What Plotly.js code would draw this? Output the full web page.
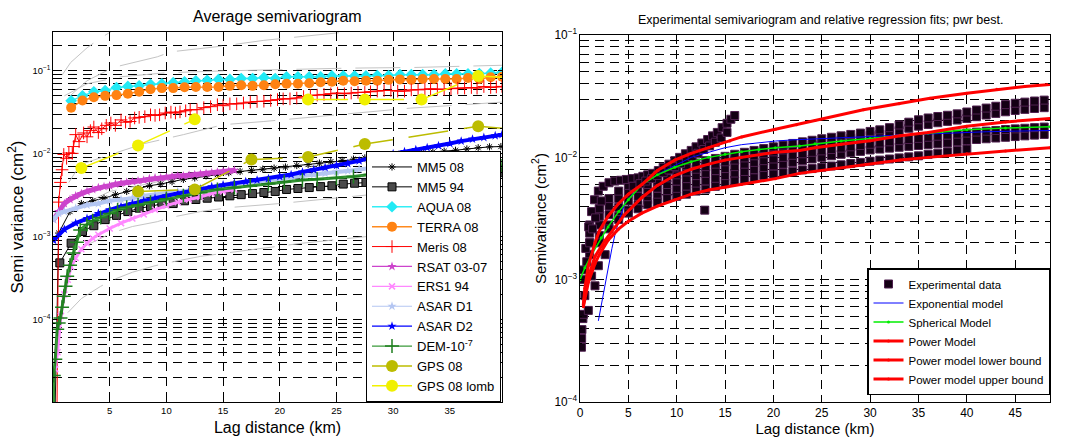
<!DOCTYPE html>
<html><head><meta charset="utf-8">
<script src="https://cdn.plot.ly/plotly-3.0.1.min.js"></script>
<style>html,body{margin:0;padding:0;background:#fff}#chart{width:1067px;height:439px}</style>
</head><body><div id="chart"></div>
<script>
// ================= LEFT PANEL DATA (lag km, semivariance cm^2) =================
const mm508X = [0.05,0.5,1.5,2.5,3.5,4.5,5.5,6.5,7.5,8.5,9.5,10.5,11.5,12.5,13.5,14.5,15.5,16.5,17.5,18.5,19.5,20.5,21.5,22.5,23.5,24.5,25.5,26.5,27.5,28.5,29.5,30.5,31.5,32.5,33.5,34.5,35.5,36.5,37.5,38.5,39.5];
const mm508Y = [1e-6,0.0011,0.0020,0.0025,0.0027,0.0029,0.0032,0.0035,0.0038,0.0041,0.0043,0.0046,0.0049,0.0051,0.0054,0.0056,0.0059,0.0061,0.0063,0.0065,0.0067,0.0069,0.0072,0.0074,0.0077,0.0080,0.0083,0.0086,0.0089,0.0092,0.0095,0.0098,0.0100,0.0103,0.0105,0.0107,0.0110,0.0114,0.0118,0.0121,0.0122];

const mm594X = [0.6,1.6,2.6,3.6,4.6,5.6,6.6,7.6,8.6,9.6,10.6,11.6,12.6,13.6,14.6,15.6,16.6,17.6,18.6,19.6,20.6,21.6,22.6,23.6,24.6,25.6,26.6,27.6,28.6,29.6,30.6,31.6,32.6,33.6,34.6,35.6,36.6,37.6,38.6,39.6];
const mm594Y = [0.00048,0.00083,0.00115,0.00135,0.0016,0.0018,0.0020,0.0022,0.0023,0.0025,0.0025,0.0027,0.0028,0.0029,0.0030,0.0031,0.0032,0.0033,0.0034,0.0035,0.0037,0.0038,0.0039,0.0040,0.0041,0.0043,0.0044,0.0045,0.0046,0.0047,0.0048,0.0049,0.0050,0.0051,0.0052,0.0053,0.0055,0.0056,0.0057,0.0059];

const modisX = [1.6,2.6,3.6,4.6,5.6,6.6,7.6,8.6,9.6,10.6,11.6,12.6,13.6,14.6,15.6,16.6,17.6,18.6,19.6,20.6,21.6,22.6,23.6,24.6,25.6,26.6,27.6,28.6,29.6,30.6,31.6,32.6,33.6,34.6,35.6,36.6,37.6,38.6,39.6];
const aquaY  = [0.0435,0.050,0.056,0.058,0.063,0.065,0.066,0.069,0.070,0.072,0.074,0.076,0.077,0.079,0.079,0.081,0.081,0.083,0.081,0.085,0.085,0.085,0.085,0.087,0.087,0.087,0.087,0.088,0.088,0.090,0.090,0.090,0.090,0.092,0.092,0.092,0.093,0.094,0.096];
const terraY = [0.036,0.044,0.048,0.050,0.051,0.053,0.056,0.060,0.062,0.062,0.0636,0.064,0.064,0.064,0.066,0.067,0.066,0.067,0.069,0.070,0.070,0.071,0.073,0.074,0.076,0.075,0.076,0.076,0.078,0.079,0.078,0.080,0.080,0.080,0.080,0.082,0.080,0.084,0.085];

const merisX = [0.3,0.5,0.66,0.8,0.95,1.2,1.4,1.7,1.8,2.0,2.3,2.7,3.0,3.3,3.6,4.0,4.3,4.7,5.1,5.5,6.0,6.4,6.8,7.2,7.6,8.1,8.6,9.0,9.4,9.9,10.4,10.8,11.2,11.7,12.1,12.7,13.3,13.9,14.5,15.0,15.6,16.2,16.8,17.4,18.0,18.6,19.2,19.8,20.3,20.9,21.5,22.1,22.7,23.3,23.9,24.5,25.1,25.7,26.3,26.9,27.5,28.0,28.6,29.2,29.8,30.4,31.0,31.6,32.2,32.8,33.3,33.9,34.5,35.1,35.7,36.3,36.9,37.4,38.0,38.6,39.1,39.6];
const merisY = [1e-6,0.0026,0.0045,0.0064,0.0098,0.0088,0.0102,0.0101,0.0122,0.017,0.014,0.0178,0.016,0.019,0.021,0.018,0.020,0.022,0.0235,0.022,0.0256,0.024,0.0245,0.027,0.0275,0.028,0.0295,0.029,0.0295,0.031,0.0318,0.031,0.032,0.033,0.034,0.034,0.036,0.037,0.039,0.038,0.040,0.040,0.041,0.042,0.0427,0.043,0.044,0.045,0.046,0.046,0.047,0.049,0.0504,0.051,0.052,0.053,0.054,0.053,0.054,0.055,0.055,0.056,0.057,0.058,0.058,0.057,0.057,0.059,0.059,0.060,0.0607,0.060,0.060,0.061,0.062,0.062,0.063,0.062,0.0647,0.063,0.064,0.065];

const rsatX = [0.05,0.5,1,1.5,2,2.5,3,3.5,4,4.5,5,5.5,6,6.5,7,7.5,8,8.5,9,9.5,10,10.5,11,11.5,12,12.5,13,13.5,14,14.5,15,15.5,16];
const rsatY = [0.0016,0.0020,0.0025,0.0028,0.0031,0.0033,0.0035,0.0037,0.0039,0.0040,0.0041,0.0043,0.0044,0.0045,0.0046,0.0047,0.0048,0.0050,0.0051,0.0051,0.0052,0.0053,0.0054,0.0054,0.0055,0.0056,0.0057,0.0058,0.0059,0.0060,0.0061,0.0062,0.0063];

const ers1X = [0.2,0.4,0.7,1.0,1.3,1.6,2.0,2.5,3.0,3.5,4.0,5,6,7,8,9,10,11,12,13,14,15,16];
const ers1Y = [2.5e-5,4e-5,1.1e-4,2e-4,3e-4,4.3e-4,5.5e-4,7e-4,8.3e-4,9.5e-4,1.05e-3,1.25e-3,1.45e-3,1.65e-3,1.85e-3,2.1e-3,2.35e-3,2.6e-3,2.8e-3,3.0e-3,3.3e-3,3.5e-3,3.7e-3];

const asar1X = [0.05,0.5,1,2,3,4,5,6,7,8,9,10,11,12,13,14,15,16,17,18,19,20,21,22,23,24,25,26,27,28,29,30,31,32,33,34,35,36,37,38,39];
const asar1Y = [0.0016,0.0019,0.0020,0.0022,0.0024,0.0025,0.0027,0.0028,0.0029,0.0031,0.0032,0.0033,0.0035,0.0036,0.0038,0.0039,0.0041,0.0043,0.0044,0.0046,0.0048,0.0050,0.0052,0.0054,0.0056,0.0058,0.0060,0.0062,0.0065,0.0067,0.0069,0.0071,0.0072,0.0074,0.0076,0.0077,0.0079,0.0080,0.0082,0.0083,0.0085];

const asar2X = [0.05,1,2,3,4,5,6,7,8,9,10,11,12,13,14,15,16,17,18,19,20,21,22,23,24,25,26,27,28,29,30,31,32,33,34,35,36,37,38,39,39.6];
const asar2Y = [0.00090,0.00122,0.00145,0.00165,0.0019,0.0021,0.0023,0.0025,0.0027,0.0029,0.0031,0.0033,0.0035,0.0037,0.0040,0.0042,0.0044,0.0046,0.0048,0.0050,0.0053,0.0056,0.0060,0.0064,0.0068,0.0072,0.0076,0.0082,0.0089,0.0094,0.0100,0.0106,0.0112,0.0118,0.0125,0.0133,0.0142,0.0150,0.0157,0.0165,0.0170];

const demX = [0.02,0.07,0.2,0.37,0.5,0.66,0.8,0.95,1.1,1.25,1.5,1.8,2.1,2.4,3,3.5,4.2,5,5.7,6.5,7.5,8.6,10,11.5,13,14.5,16,17.4,19,20.4,22,23.3,25,26.5,28,29.5,31,32.5,34,35.5,37,38.5,39.6];
const demY = [1e-6,2.1e-5,3.3e-5,7.6e-5,9e-5,1.04e-4,1.4e-4,1.9e-4,2.5e-4,3.3e-4,4.5e-4,6.3e-4,8.5e-4,1.2e-3,1.4e-3,1.55e-3,1.7e-3,1.9e-3,2.1e-3,2.25e-3,2.4e-3,2.6e-3,2.85e-3,3.1e-3,3.4e-3,3.7e-3,3.9e-3,4.1e-3,4.35e-3,4.6e-3,4.8e-3,4.9e-3,5.1e-3,5.3e-3,5.6e-3,5.8e-3,6.0e-3,6.2e-3,6.4e-3,6.6e-3,6.8e-3,7.0e-3,7.1e-3];

const gpsX = [7.5,12.5,17.5,22.5,27.5,37.5,42.5];
const gpsY = [0.0035,0.0037,0.0085,0.0091,0.0131,0.0214,0.019];
const gpsLombX = [2.5,7.5,12.5,17.5,22.5,27.5,32.5,37.5,42.5];
const gpsLombY = [0.0067,0.0126,0.026,null,0.045,0.045,0.045,0.087,0.080];

// grey regression fits in background
const fitAX = [1.3,2.5,4.2,5.3,7,8.9,10.4,13,17.4,22,27.7,33,39.6];
const fitAY = [1.2e-4,1.78e-4,2.5e-4,3.0e-4,3.7e-4,4.4e-4,4.9e-4,5.75e-4,6.9e-4,8.3e-4,1.0e-3,1.07e-3,1.15e-3];
const fitBX = [1.5,3,5.3,7,9.2,10.4,13,15.6,20,23.8,28,34,39.6];
const fitBY = [5e-4,7.9e-4,1.12e-3,1.32e-3,1.51e-3,1.7e-3,2.0e-3,2.24e-3,2.5e-3,2.8e-3,3.2e-3,3.5e-3,4.0e-3];
const fitCX = [1.4,2.4,5.5,8,11.5,15,18.6,25,31.5,36.2,39.6];
const fitCY = [4.5e-3,7.4e-3,1.02e-2,1.32e-2,1.7e-2,2.24e-2,2.45e-2,2.95e-2,3.55e-2,3.9e-2,4.2e-2];
const fitDX = [0.8,1.55,3,4.2,5.5];
const fitDY = [0.089,0.126,0.19,0.25,0.32];
const fitEX = [1.5,3,5.3,9.2,10.4,15,18.6,25.1,28];
const fitEY = [0.05,0.076,0.11,0.148,0.17,0.2,0.234,0.288,0.316];
const fitFX = [1,3,6,10,15,20,26,31.8,39.6];
const fitFY = [0.05,0.07,0.085,0.095,0.1,0.104,0.108,0.11,0.117];
const fitGX = [2,5,10,16.8,21,28,35,39.6];
const fitGY = [0.0022,0.0035,0.0048,0.0059,0.0068,0.008,0.0092,0.010];

// ================= RIGHT PANEL DATA =================
const bandX = [1,2,3,4,5,6,7,8,9,10,11,12,13,14,15,16,17,18,19,20,21,22,23,24,25,26,27,28,29,30,31,32,33,34,35,36,37,38,39,40,41,42,43,44,45,46,47,48];
const bandTopY = [0.0028,0.0038,0.0046,0.0053,0.0059,0.0064,0.0069,0.0074,0.0078,0.0082,0.0086,0.0090,0.0094,0.0098,0.0102,0.0106,0.0110,0.0114,0.0118,0.0122,0.0126,0.0130,0.0134,0.0138,0.0142,0.0146,0.0150,0.0154,0.0158,0.0163,0.0168,0.0175,0.0184,0.0194,0.0203,0.0210,0.0216,0.0221,0.0227,0.0235,0.0244,0.0253,0.0262,0.0270,0.0277,0.0283,0.0289,0.0294];
const bandUpperLowY = [0.0024,0.0033,0.0040,0.0046,0.0051,0.0056,0.0060,0.0064,0.0068,0.0072,0.0076,0.0080,0.0084,0.0088,0.0092,0.0095,0.0099,0.0103,0.0107,0.0111,0.0115,0.0119,0.0123,0.0127,0.0131,0.0135,0.0139,0.0143,0.0147,0.0151,0.0155,0.0160,0.0166,0.0173,0.0180,0.0186,0.0192,0.0197,0.0202,0.0208,0.0215,0.0222,0.0229,0.0236,0.0242,0.0247,0.0251,0.0255];
const bandMidTopY = [0.0020,0.0028,0.0034,0.0039,0.0044,0.0048,0.0052,0.0056,0.0060,0.0064,0.0067,0.0071,0.0074,0.0078,0.0081,0.0084,0.0088,0.0091,0.0094,0.0097,0.0100,0.0104,0.0107,0.0110,0.0113,0.0116,0.0119,0.0122,0.0125,0.0128,0.0131,0.0134,0.0137,0.0140,0.0143,0.0146,0.0149,0.0152,0.0155,0.0158,0.0161,0.0164,0.0166,0.0169,0.0171,0.0173,0.0175,0.0177];
const bandMidLowY = [0.0016,0.0023,0.0028,0.0033,0.0037,0.0041,0.0045,0.0048,0.0052,0.0055,0.0058,0.0061,0.0064,0.0067,0.0070,0.0073,0.0076,0.0079,0.0082,0.0085,0.0088,0.0091,0.0094,0.0097,0.0100,0.0103,0.0106,0.0109,0.0112,0.0115,0.0117,0.0119,0.0121,0.0123,0.0125,0.0127,0.0129,0.0131,0.0134,0.0137,0.0140,0.0142,0.0144,0.0146,0.0148,0.0150,0.0152,0.0154];
const lowRowX = [2,3,4,5,6,7,8,9,10,11,12,13,14,15,16,17,18,19,20,21,22,23,24,25,26,27,28,29,30,31,32,33,34,35,36,37,38,39,40];
const lowRowY = [0.0020,0.0026,0.0031,0.0035,0.0038,0.0041,0.0043,0.0046,0.0048,0.0050,0.0053,0.0055,0.0058,0.0061,0.0064,0.0066,0.0068,0.0071,0.0073,0.0075,0.0077,0.0079,0.0081,0.0083,0.0085,0.0087,0.0089,0.0091,0.0093,0.0095,0.0097,0.0099,0.0101,0.0103,0.0106,0.0108,0.0111,0.0114,0.0117];
const steepX = [0.3,0.6,0.9,1.2,1.5,1.9,2.4,3.0,3.6,4.2,4.8,5.4,6.0,6.5,7.0,7.5,8.1,8.6,9.2,9.8,10.3,10.9,11.5,12.0,12.6,13.2,13.7,14.2,14.7,15.2,15.6,16.0];
const steepY = [0.0012,0.0018,0.0027,0.0036,0.0045,0.0053,0.0058,0.0062,0.0064,0.0065,0.0066,0.0067,0.0068,0.0070,0.0072,0.0074,0.0078,0.0083,0.0088,0.0094,0.0100,0.0107,0.0114,0.0122,0.0131,0.0140,0.0150,0.0160,0.0175,0.0190,0.0205,0.0220];
const steep2X = [5.5,6.2,6.8,7.4,8.0,8.6,9.2,9.8,10.4,11.0,11.6,12.2,12.8,13.4,14.0,14.6,15.2];
const steep2Y = [0.0058,0.0061,0.0064,0.0067,0.0071,0.0075,0.0079,0.0084,0.0089,0.0095,0.0101,0.0108,0.0116,0.0124,0.0133,0.0144,0.0160];
const scatterX = [0.15,0.17,0.2,0.3,0.35,0.5,0.86,1.2,1.55,1.9,2.6,0.4,0.7,1.0,1.3,1.6,2.0,2.2,12.9];
const scatterY = [2.8e-4,3.3e-4,3.9e-4,4.8e-4,5.2e-4,7.4e-4,5.6e-4,1.07e-3,8.9e-4,1.3e-3,1.6e-3,1.0e-3,1.4e-3,2.0e-3,2.6e-3,3.2e-3,3.8e-3,4.4e-3,3.7e-3];

const expoX = [1.9,2.1,2.3,2.6,2.9,3.3,3.6,4.0,4.65,5.5,6.4,7.2,8.1,9.0,9.8,10.6,11.5,12.4,13.3,15,16.7,18.5,20.2,22,24.3,27,30,33,36.2,39,42,45,48.6];
const expoY = [4.6e-4,5.6e-4,7.0e-4,9.5e-4,1.3e-3,1.8e-3,2.3e-3,3.0e-3,4.2e-3,5.1e-3,5.9e-3,6.6e-3,7.3e-3,8.0e-3,8.6e-3,9.2e-3,1.0e-2,1.05e-2,1.1e-2,1.2e-2,1.27e-2,1.32e-2,1.36e-2,1.39e-2,1.41e-2,1.45e-2,1.48e-2,1.52e-2,1.56e-2,1.59e-2,1.62e-2,1.64e-2,1.66e-2];
const sphX = [0,0.5,1.2,2.2,2.9,4.0,5.0,6.4,8,9.8,11.5,13.3,15,16.7,18.5,20.2,22.7,24.3,27,30,33.1,36,40,44,48.6];
const sphY = [0.0010,0.00125,0.0016,0.0022,0.0027,0.0036,0.0045,0.0060,0.0072,0.0083,0.0092,0.0100,0.0106,0.0111,0.0116,0.0120,0.0124,0.0129,0.0136,0.0143,0.0150,0.0158,0.0168,0.0174,0.0178];
const powX = [0.35,0.5,0.86,1.55,2.6,3.6,4.6,6.4,8,9.8,11.5,13.3,15,16.7,18.5,20.2,22.7,24.3,27,30,33.1,36,40,44,48.6];
const powY = [6.1e-4,7.5e-4,1.05e-3,1.55e-3,2.1e-3,2.7e-3,3.4e-3,4.7e-3,5.9e-3,7.1e-3,8.0e-3,8.8e-3,9.5e-3,1.0e-2,1.05e-2,1.1e-2,1.14e-2,1.2e-2,1.28e-2,1.37e-2,1.5e-2,1.6e-2,1.8e-2,1.95e-2,2.08e-2];
const powLowX = [0.35,0.5,0.86,1.55,2.0,2.9,4,5,6.4,8,9.8,11.5,13.3,15,16.7,20.2,22.7,24.3,28,33.1,36,40,44,48.6];
const powLowY = [6e-4,7e-4,9.5e-4,1.35e-3,1.6e-3,2.1e-3,2.6e-3,3.0e-3,3.5e-3,4.0e-3,4.5e-3,5.0e-3,5.4e-3,5.7e-3,6.0e-3,6.7e-3,7.4e-3,7.7e-3,8.4e-3,9.5e-3,1.0e-2,1.07e-2,1.13e-2,1.2e-2];
const powUpX = [0.35,0.5,0.86,1.55,2.0,2.9,4.0,5,6.4,8,9.8,11.5,13.3,15.5,16.7,20.2,22.4,24.3,29.3,33,36.2,40,43.1,46,48.6];
const powUpY = [6.3e-4,8.5e-4,1.3e-3,2.0e-3,2.5e-3,3.3e-3,4.2e-3,5.0e-3,6.0e-3,7.8e-3,9.5e-3,1.08e-2,1.2e-2,1.36e-2,1.47e-2,1.7e-2,1.85e-2,2.0e-2,2.45e-2,2.75e-2,3.05e-2,3.35e-2,3.6e-2,3.8e-2,3.95e-2];

// ================= BUILD =================
const FONT = 'Arial, "Liberation Sans", Helvetica, sans-serif';
const traces = [];
function grey(x, y){ traces.push({x:x, y:y, xaxis:'x', yaxis:'y', type:'scatter', mode:'lines', showlegend:false, hoverinfo:'skip',
  line:{color:'#c4c4c4', width:1, dash:'45px,14px'}}); }
grey(fitAX, fitAY); grey(fitBX, fitBY); grey(fitCX, fitCY); grey(fitDX, fitDY);
grey(fitEX, fitEY); grey(fitFX, fitFY); grey(fitGX, fitGY);

// wide under-strokes that give the dense series their band look (not in the legend)
function band(x, y, color, width){ traces.push({x:x, y:y, xaxis:'x', yaxis:'y', type:'scatter', mode:'lines', showlegend:false,
  hoverinfo:'skip', line:{color:color, width:width}}); }

function L(name, x, y, line, marker){
  traces.push({name:name, x:x, y:y, xaxis:'x', yaxis:'y', type:'scatter', mode:'lines+markers', legend:'legend',
    line:line, marker:marker});
}
L('MM5 08', mm508X, mm508Y, {color:'#000', width:1}, {symbol:'asterisk', size:6, color:'#000', line:{color:'#000', width:1}});
L('MM5 94', mm594X, mm594Y, {color:'#000', width:1}, {symbol:'square', size:8, color:'#4a4a4a', line:{color:'#000', width:1}});
L('AQUA 08', modisX, aquaY, {color:'#33eef5', width:1.5}, {symbol:'diamond', size:9, color:'#22eaf5'});
L('TERRA 08', modisX, terraY, {color:'#ff8a1e', width:1.5}, {symbol:'circle', size:10, color:'#ff8212'});
L('Meris 08', merisX, merisY, {color:'#ff0000', width:1}, {symbol:'cross-thin', size:9, color:'#ff0000', line:{color:'#ff0000', width:1}});
band(rsatX, rsatY, '#cc44cc', 5);
L('RSAT 03-07', rsatX, rsatY, {color:'#cc44cc', width:1.2}, {symbol:'star', size:7, color:'#cc44cc'});
band(ers1X, ers1Y, '#ff88ff', 3);
L('ERS1 94', ers1X, ers1Y, {color:'#ff88ff', width:1.2}, {symbol:'x-thin', size:6, color:'#ff88ff', line:{color:'#ff88ff', width:1.5}});
band(asar1X, asar1Y, '#b4c6f2', 4);
L('ASAR D1', asar1X, asar1Y, {color:'#b4c6f2', width:1.2}, {symbol:'star', size:7, color:'#b4c6f2'});
band(asar2X, asar2Y, '#0000ff', 4);
L('ASAR D2', asar2X, asar2Y, {color:'#0000ff', width:1.2}, {symbol:'star', size:7, color:'#0000ff'});
band(demX, demY, '#2a8a2a', 3);
L('DEM-10<sup>-7</sup>', demX, demY, {color:'#3a9a3a', width:1.2}, {symbol:'cross-thin', size:10, color:'#1f7f1f', line:{color:'#1f7f1f', width:1.5}});
L('GPS 08', gpsX, gpsY, {color:'#bcbc00', width:1.5, dash:'40px,16px'}, {symbol:'circle', size:12, color:'#bcbc00'});
L('GPS 08 lomb', gpsLombX, gpsLombY, {color:'#f2f200', width:1.5, dash:'40px,16px'}, {symbol:'circle', size:12, color:'#f0f000'});

function E(x, y, show){
  traces.push({name:'Experimental data', x:x, y:y, xaxis:'x2', yaxis:'y2', type:'scatter', mode:'markers', legend:'legend2', showlegend:!!show,
    marker:{symbol:'square', size:8, color:'#140014', line:{color:'#4e1f4e', width:1}}});
}
E(bandX, bandMidLowY, true);
E(lowRowX, lowRowY); E(bandX, bandMidTopY); E(bandX, bandUpperLowY); E(bandX, bandTopY);
E(steepX, steepY); E(steep2X, steep2Y); E(scatterX, scatterY);

function R(name, x, y, line, marker){
  const t = {name:name, x:x, y:y, xaxis:'x2', yaxis:'y2', type:'scatter', mode:'lines', legend:'legend2', line:line};
  if (marker) { t.mode = 'lines+markers'; t.marker = marker; }
  traces.push(t);
}
R('Exponential model', expoX, expoY, {color:'#0000ff', width:1});
R('Spherical Model', sphX, sphY, {color:'#00ee00', width:1.5}, {symbol:'circle', size:3, color:'#00ee00'});
R('Power Model', powX, powY, {color:'#ff0000', width:3}, {symbol:'circle', size:3, color:'#ff0000'});
R('Power model lower bound', powLowX, powLowY, {color:'#ff0000', width:3}, {symbol:'circle', size:3, color:'#ff0000'});
R('Power model upper bound', powUpX, powUpY, {color:'#ff0000', width:3}, {symbol:'circle', size:3, color:'#ff0000'});

const W = 1067, H = 439;
const dash = '9px,6px';
function ax(extra){
  return Object.assign({showline:true, linecolor:'#000', linewidth:1, mirror:'ticks', ticks:'inside', ticklen:4, tickcolor:'#000',
    showgrid:true, gridcolor:'#000', gridwidth:1, griddash:dash, zeroline:false, automargin:false}, extra);
}
function minorLog(){ return {dtick:'D1', showgrid:true, gridcolor:'#000', gridwidth:1, griddash:dash, ticks:'inside', ticklen:2, tickcolor:'#000'}; }

const layout = {
  width:W, height:H, margin:{l:0, r:0, t:0, b:0}, paper_bgcolor:'#fff', plot_bgcolor:'#fff',
  font:{family:FONT, color:'#000'}, showlegend:true,
  xaxis: ax({domain:[53/W, 502/W], anchor:'y', range:[0,39.6], tickmode:'array', tickvals:[5,10,15,20,25,30,35],
    tickfont:{size:9.5}, title:{text:'Lag distance (km)', font:{size:16}, standoff:6}}),
  yaxis: ax({domain:[1-402/H, 1-32/H], anchor:'x', type:'log', range:[-4.999,-0.53], tickmode:'linear', tick0:0, dtick:1,
    exponentformat:'power', tickfont:{size:7.5}, minor:minorLog(), title:{text:'Semi variance (cm<sup>2</sup>)', font:{size:17}, standoff:4}}),
  xaxis2: ax({domain:[580/W, 1050/W], anchor:'y2', range:[0,48.6], tickmode:'linear', tick0:0, dtick:5,
    tickfont:{size:12}, title:{text:'Lag distance (km)', font:{size:15}, standoff:4}}),
  yaxis2: ax({domain:[1-402/H, 1-35/H], anchor:'x2', type:'log', range:[-4.001,-0.999], tickmode:'linear', tick0:0, dtick:1,
    exponentformat:'power', tickfont:{size:9.5}, minor:minorLog(), title:{text:'Semivariance (cm<sup>2</sup>)', font:{size:15}, standoff:4}}),
  legend:{x:366/W, y:1-151/H, xanchor:'left', yanchor:'top', bgcolor:'#fff', bordercolor:'#000', borderwidth:1,
    font:{size:13, family:FONT}, itemwidth:40, traceorder:'normal'},
  legend2:{x:1050/W, y:1-395/H, xanchor:'right', yanchor:'bottom', bgcolor:'#fff', bordercolor:'#000', borderwidth:1.5,
    font:{size:11.5, family:FONT}, itemwidth:30, traceorder:'normal'},
  annotations:[
    {text:'Average semivariogram', xref:'paper', yref:'paper', x:277/W, y:1-17/H, xanchor:'center', yanchor:'middle', showarrow:false, font:{size:16}},
    {text:'Experimental semivariogram and relative regression fits; pwr best.', xref:'paper', yref:'paper', x:820/W, y:1-20/H,
      xanchor:'center', yanchor:'middle', showarrow:false, font:{size:12.5}}
  ]
};

Plotly.newPlot('chart', traces, layout, {staticPlot:true, displayModeBar:false});
</script></body></html>
